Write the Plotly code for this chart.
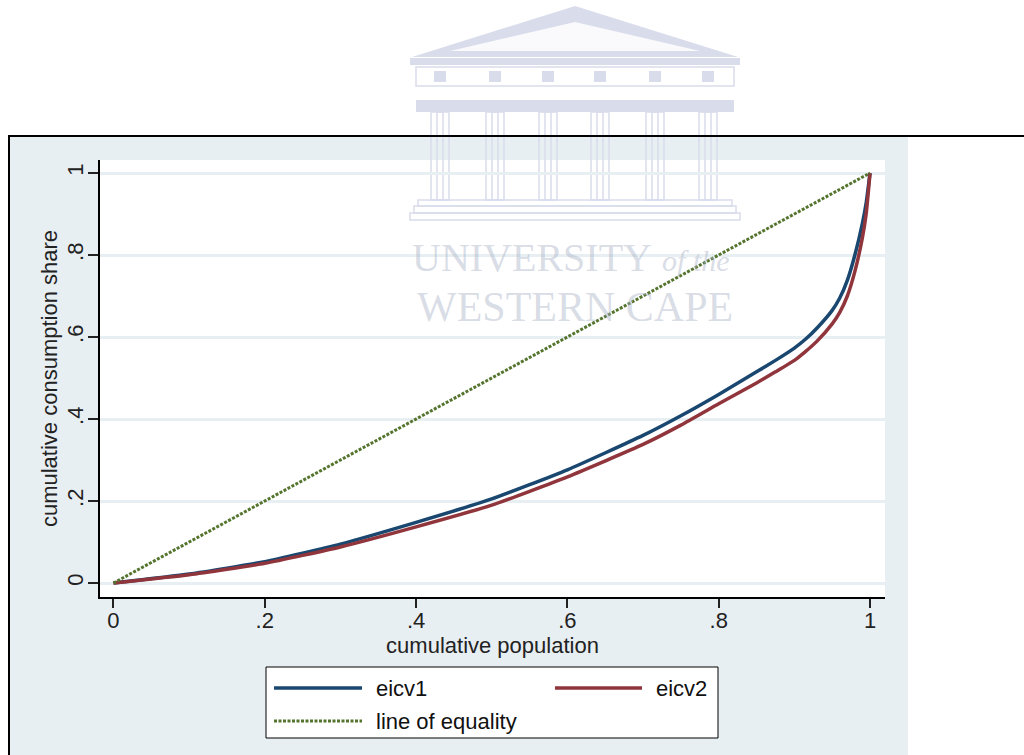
import plotly.graph_objects as go

# ---------------- data ----------------
pop_share = [0, 0.1, 0.2, 0.3, 0.4, 0.5, 0.6, 0.7, 0.75, 0.8, 0.85, 0.875, 0.9, 0.915, 0.93, 0.95, 0.96, 0.97, 0.98, 0.99, 0.995, 1.0]
eicv1 = [0, 0.022, 0.052, 0.095, 0.148, 0.205, 0.276, 0.360, 0.408, 0.460, 0.515, 0.543, 0.573, 0.595, 0.622, 0.665, 0.695, 0.738, 0.800, 0.878, 0.928, 1.0]
eicv2 = [0, 0.020, 0.048, 0.088, 0.137, 0.190, 0.259, 0.338, 0.385, 0.437, 0.488, 0.515, 0.543, 0.565, 0.590, 0.632, 0.660, 0.700, 0.760, 0.843, 0.902, 1.0]
equality_x = [0, 1]
equality_y = [0, 1]
tick_vals = [0, 0.2, 0.4, 0.6, 0.8, 1]
tick_text = ["0", ".2", ".4", ".6", ".8", "1"]
legend_names = ["eicv1", "eicv2", "line of equality"]

# ---------------- styles ----------------
BLUE = "#1A476F"
RED = "#90353B"
GREEN = "#55752F"
BG = "#E8EFF2"
WM = "#D9DCEB"
FONT = "Liberation Sans, Arial, sans-serif"

W, H = 1024, 755
ML, MR, MT, MB = 100, 139, 160, 158
PW, PH = W - ML - MR, H - MT - MB


def px(x):
    return (x - ML) / PW


def py(y):
    return (H - MB - y) / PH


fig = go.Figure()
fig.add_trace(go.Scatter(x=pop_share, y=eicv1, mode="lines", name=legend_names[0],
                         line=dict(color=BLUE, width=3.5, shape="spline", smoothing=0.5)))
fig.add_trace(go.Scatter(x=pop_share, y=eicv2, mode="lines", name=legend_names[1],
                         line=dict(color=RED, width=3.5, shape="spline", smoothing=0.5)))
fig.add_trace(go.Scatter(x=equality_x, y=equality_y, mode="lines", name=legend_names[2],
                         line=dict(color=GREEN, width=3, dash="3px,1.5px")))

shapes = []
# outer grey-blue background
shapes.append(dict(type="rect", xref="paper", yref="paper", x0=px(10), x1=px(908), y0=py(137), y1=py(755),
                   fillcolor=BG, line=dict(width=0), layer="below"))
# white plot region
shapes.append(dict(type="rect", xref="paper", yref="paper", x0=0, x1=1, y0=0, y1=1,
                   fillcolor="white", line=dict(width=0), layer="below"))

# ---------------- watermark (logo) ----------------
def wrect(x0, y0, x1, y1, fill=WM, line=None):
    shapes.append(dict(type="rect", xref="paper", yref="paper", x0=px(x0), x1=px(x1), y0=py(y0), y1=py(y1),
                       fillcolor=fill, line=dict(width=1.5 if line else 0, color=line or WM), layer="below"))


def wpath(points, fill):
    d = "M " + " L ".join(f"{px(a)},{py(b)}" for a, b in points) + " Z"
    shapes.append(dict(type="path", xref="paper", yref="paper", path=d, fillcolor=fill,
                       line=dict(width=0), layer="below"))


wpath([(412, 57), (575, 6), (738, 57)], WM)
wpath([(450, 51), (575, 22), (700, 51)], "rgba(255,255,255,0.85)")
wrect(410, 58, 740, 65)
wrect(416, 67, 734, 86, fill="rgba(255,255,255,0)", line=WM)
for cx in [440, 495, 548, 600, 655, 708]:
    wrect(cx - 6, 71, cx + 6, 82)
wrect(416, 100, 734, 112)
for cx in [440, 495, 548, 600, 655, 708]:
    wrect(cx - 9, 112, cx + 9, 200, fill="rgba(255,255,255,0)", line=WM)
    wrect(cx - 3, 112, cx + 3, 200, fill="rgba(255,255,255,0)", line=WM)
wrect(418, 200, 732, 206, fill="rgba(255,255,255,0)", line=WM)
wrect(414, 206, 736, 213, fill="rgba(255,255,255,0)", line=WM)
wrect(410, 213, 740, 220, fill="rgba(255,255,255,0)", line=WM)

# frame lines of the page
shapes.append(dict(type="line", xref="paper", yref="paper", x0=px(8), x1=px(1024), y0=py(136), y1=py(136),
                   line=dict(color="black", width=2)))
shapes.append(dict(type="line", xref="paper", yref="paper", x0=px(9), x1=px(9), y0=py(136), y1=py(755),
                   line=dict(color="black", width=2)))

# ---------------- manual legend ----------------
shapes.append(dict(type="rect", xref="paper", yref="paper", x0=px(266), x1=px(718), y0=py(667), y1=py(738),
                   fillcolor="white", line=dict(color="black", width=1)))
shapes.append(dict(type="line", xref="paper", yref="paper", x0=px(274), x1=px(362), y0=py(688), y1=py(688),
                   line=dict(color=BLUE, width=3.5)))
shapes.append(dict(type="line", xref="paper", yref="paper", x0=px(555), x1=px(642), y0=py(688), y1=py(688),
                   line=dict(color=RED, width=3.5)))
shapes.append(dict(type="line", xref="paper", yref="paper", x0=px(274), x1=px(362), y0=py(721), y1=py(721),
                   line=dict(color=GREEN, width=3, dash="3px,1.5px")))

annotations = []
for name, x, y in [(legend_names[0], 374, 688), (legend_names[1], 654, 688), (legend_names[2], 374, 721)]:
    annotations.append(dict(text=name, xref="paper", yref="paper", x=px(x), y=py(y), xanchor="left",
                            yanchor="middle", showarrow=False, font=dict(family=FONT, size=22, color="#111111")))

# watermark text
WMT = "rgba(170,178,200,0.45)"
annotations.append(dict(text="UNIVERSITY", xref="paper", yref="paper", x=px(410), y=py(257), xanchor="left",
                        yanchor="middle", showarrow=False,
                        font=dict(family="Liberation Serif, Times New Roman, serif", size=40, color=WMT)))
annotations.append(dict(text="<i>of the</i>", xref="paper", yref="paper", x=px(660), y=py(260), xanchor="left",
                        yanchor="middle", showarrow=False,
                        font=dict(family="Liberation Serif, Times New Roman, serif", size=30, color=WMT)))
annotations.append(dict(text="WESTERN CAPE", xref="paper", yref="paper", x=px(575), y=py(307), xanchor="center",
                        yanchor="middle", showarrow=False,
                        font=dict(family="Liberation Serif, Times New Roman, serif", size=42, color=WMT)))

fig.update_layout(
    width=W, height=H,
    margin=dict(l=ML, r=MR, t=MT, b=MB, pad=0),
    paper_bgcolor="white",
    plot_bgcolor="rgba(0,0,0,0)",
    showlegend=False,
    shapes=shapes,
    annotations=annotations,
    font=dict(family=FONT, size=22, color="#222222"),
)
fig.update_xaxes(
    range=[-0.0178, 1.0198], tickvals=tick_vals, ticktext=tick_text,
    showgrid=False, zeroline=False, showline=True, linecolor="black", linewidth=1.5,
    ticks="outside", ticklen=9, tickwidth=1.5, tickcolor="#222222", ticklabelstandoff=-6,
    tickfont=dict(family=FONT, size=22, color="#222222"),
    title=dict(text="cumulative population", font=dict(family=FONT, size=22, color="#222222"), standoff=0),
)
fig.update_yaxes(
    range=[-0.0341, 1.0317], tickvals=tick_vals, ticktext=tick_text, tickangle=-90,
    showgrid=True, gridcolor=BG, gridwidth=3, zeroline=False, showline=True, linecolor="black", linewidth=1.5,
    ticks="outside", ticklen=10, tickwidth=1.5, tickcolor="#222222", ticklabelstandoff=-4,
    tickfont=dict(family=FONT, size=22, color="#222222"),
    title=dict(text="cumulative consumption share", font=dict(family=FONT, size=22, color="#222222"), standoff=0),
)

fig.write_html("out.html", config={"displayModeBar": False},
               post_script="document.body.style.margin='0';document.body.style.overflow='hidden';")
